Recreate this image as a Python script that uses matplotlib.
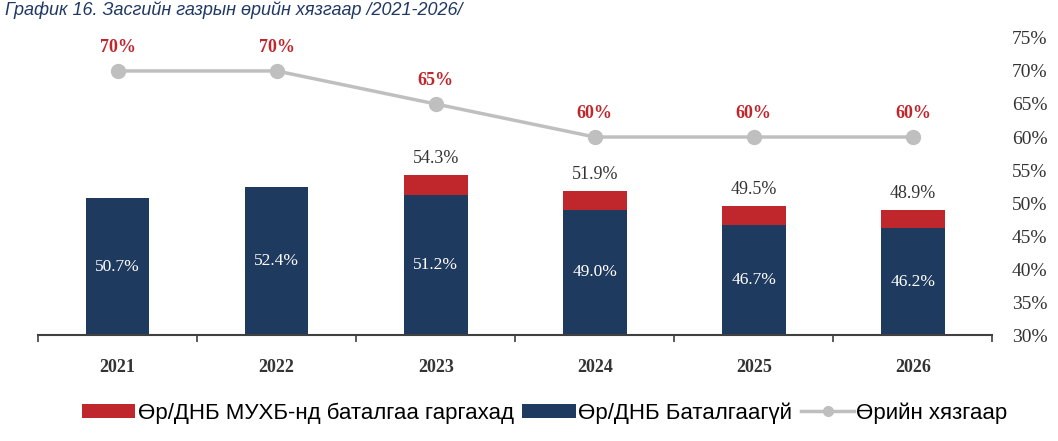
import matplotlib.pyplot as plt
import numpy as np
from matplotlib.lines import Line2D

years = ["2021", "2022", "2023", "2024", "2025", "2026"]
unguaranteed = [50.7, 52.4, 51.2, 49.0, 46.7, 46.2]
guaranteed = [0.0, 0.0, 3.1, 2.9, 2.8, 2.7]
totals = [None, None, 54.3, 51.9, 49.5, 48.9]
limit = [70, 70, 65, 60, 60, 60]
yticks = [30, 35, 40, 45, 50, 55, 60, 65, 70, 75]

red = "#c0272d"
navy = "#1f3a5f"
gray = "#bfbfbf"
serif = "Liberation Serif"
sans = "Liberation Sans"

fig = plt.figure(figsize=(10.58, 4.41), dpi=100)
ax = fig.add_axes([0.036, 0.24, 0.902, 0.674])

x = np.arange(len(years))
b_navy = ax.bar(x, unguaranteed, width=0.4, color=navy, zorder=2)
b_red = ax.bar(x, guaranteed, width=0.4, bottom=unguaranteed, color=red, zorder=2)
ax.plot(x, limit, color=gray, lw=2.5, marker="o", ms=10, mfc=gray, mec=gray, zorder=3)

for i in range(len(years)):
    ax.text(x[i], (30 + unguaranteed[i]) / 2, f"{unguaranteed[i]:.1f}%", color="white",
            ha="center", va="center", fontsize=12.5, family=serif, zorder=4)
    if totals[i] is not None:
        ax.text(x[i], totals[i] + 1.2, f"{totals[i]:.1f}%", color="#333333",
                ha="center", va="bottom", fontsize=13, family=serif)
    ax.text(x[i], limit[i] + 2.3, f"{limit[i]}%", color=red, ha="center", va="bottom",
            fontsize=13, family=serif, fontweight="bold")

ax.set_xlim(-0.5, len(years) - 0.5)
ax.set_ylim(30, 75)
ax.set_xticks(x)
ax.set_xticklabels(years, family=serif, fontsize=13, fontweight="bold", color="#333333")
ax.set_xticks(np.arange(-0.5, len(years)), minor=True)
ax.tick_params(axis="x", which="major", length=0, pad=17)
ax.tick_params(axis="x", which="minor", length=5, width=1.2, color="#404040", direction="out")

ax.yaxis.tick_right()
ax.set_yticks(yticks)
ax.set_yticklabels([f"{t}%" for t in yticks], family=serif, fontsize=14, color="#333333")
ax.tick_params(axis="y", length=0, pad=14)

for s in ["top", "left", "right"]:
    ax.spines[s].set_visible(False)
ax.spines["bottom"].set_color("#404040")
ax.spines["bottom"].set_linewidth(1.5)

# smaller marker in the legend than on the chart
leg_line = Line2D([], [], color=gray, lw=2.5, marker="o", ms=7, mfc=gray, mec=gray)
fig.legend([b_red, b_navy, leg_line],
           ["Өр/ДНБ МУХБ-нд баталгаа гаргахад", "Өр/ДНБ Баталгаагүй", "Өрийн хязгаар"],
           loc="center", bbox_to_anchor=(0.515, 0.064), ncol=3, frameon=False,
           handlelength=2.4, handleheight=0.6, handletextpad=0.1, columnspacing=0.4,
           prop={"family": sans, "size": 16})

fig.text(0.005, 0.998, "График 16. Засгийн газрын өрийн хязгаар /2021-2026/",
         color="#1f3864", fontsize=13, style="italic", family=sans, va="top")

fig.savefig("out.png", dpi=100)
